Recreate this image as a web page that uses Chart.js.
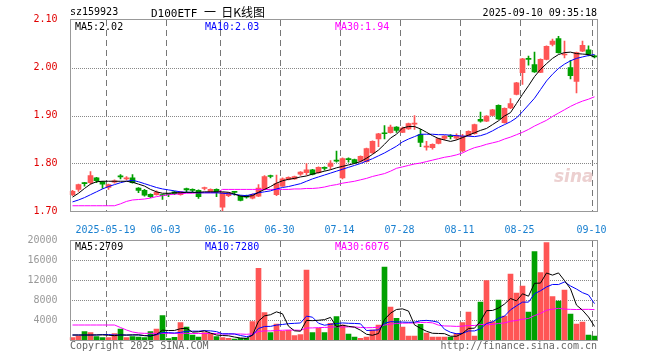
<!DOCTYPE html>
<html>
<head>
<meta charset="utf-8">
<title>D100ETF 日K线图</title>
<script src="https://cdn.jsdelivr.net/npm/chart.js@4.4.1/dist/chart.umd.min.js"></script>
<style>
  body { margin: 0; background: #fff; }
  #box { position: relative; width: 660px; height: 360px; overflow: hidden;
         font-family: "DejaVu Sans Mono", "Liberation Mono", monospace; font-size: 10px; }
  .txt { position: absolute; line-height: 10px; white-space: pre; }
  canvas { position: absolute; left: 0; }
</style>
</head>
<body>
<div id="box">
  <canvas id="kline" width="660" height="236" style="top:0"></canvas>
  <canvas id="vol" width="660" height="132" style="top:228px"></canvas>

  <div class="txt" style="left:70px;top:7px;color:#000">sz159923</div>
  <div class="txt" style="left:151px;top:6px;line-height:12px;font-size:11px;color:#000">D100ETF <span style='font-family:"Noto Sans CJK SC";font-size:12px'>一  日K线图</span></div>
  <div class="txt" style="right:63px;top:8px;color:#000">2025-09-10 09:35:18</div>

  <div class="txt" id="lgMa5" style="left:75px;top:21.5px;color:#000"></div>
  <div class="txt" id="lgMa10" style="left:205px;top:21.5px;color:#0000ff"></div>
  <div class="txt" id="lgMa30" style="left:335px;top:21.5px;color:#ff00ff"></div>

  <div class="txt" id="lgVol5" style="left:75px;top:242px;color:#000"></div>
  <div class="txt" id="lgVol10" style="left:205px;top:242px;color:#0000ff"></div>
  <div class="txt" id="lgVol30" style="left:335px;top:242px;color:#ff00ff"></div>

  <div class="txt" style="left:554px;top:166px;line-height:18px;font:italic bold 17px 'DejaVu Sans';color:#ecd0d0">sina</div>

  <div class="txt" style="left:70px;top:340.5px;color:#666">Copyright 2025 SINA.COM</div>
  <div class="txt" style="right:63px;top:340.5px;color:#666">http://finance.sina.com.cn</div>
</div>

<script>
// trading days shown (2025)
const days = [
  '05-09','05-12','05-13','05-14','05-15','05-16',
  '05-19','05-20','05-21','05-22','05-23',
  '05-26','05-27','05-28','05-29','05-30',
  '06-03','06-04','06-05','06-06',
  '06-09','06-10','06-11','06-12','06-13',
  '06-16','06-17','06-18','06-19','06-20',
  '06-23','06-24','06-25','06-26','06-27',
  '06-30','07-01','07-02','07-03','07-04',
  '07-07','07-08','07-09','07-10','07-11',
  '07-14','07-15','07-16','07-17','07-18',
  '07-21','07-22','07-23','07-24','07-25',
  '07-28','07-29','07-30','07-31','08-01',
  '08-04','08-05','08-06','08-07','08-08',
  '08-11','08-12','08-13','08-14','08-15',
  '08-18','08-19','08-20','08-21','08-22',
  '08-25','08-26','08-27','08-28','08-29',
  '09-01','09-02','09-03','09-04','09-05',
  '09-08','09-09','09-10'
];

const tickDays = ['05-19','06-03','06-16','06-30','07-14','07-28','08-11','08-25','09-10'];
const tickText = ['2025-05-19','06-03','06-16','06-30','07-14','07-28','08-11','08-25','09-10'];

const open = [
  1.735,1.746,1.760,1.760,1.770,1.762,1.750,1.761,1.773,1.768,
  1.770,1.749,1.744,1.736,1.735,1.735,1.736,1.741,1.735,1.748,
  1.745,1.744,1.748,1.742,1.746,1.709,1.733,1.741,1.732,1.733,
  1.728,1.732,1.746,1.774,1.735,1.753,1.767,1.768,1.778,1.781,
  1.787,1.781,1.791,1.794,1.806,1.770,1.809,1.808,1.805,1.804,
  1.822,1.851,1.863,1.864,1.876,1.865,1.872,1.882,1.860,1.834,
  1.833,1.842,1.852,1.857,1.853,1.826,1.858,1.862,1.892,1.888,
  1.900,1.921,1.885,1.916,1.944,1.989,2.018,2.006,1.990,2.017,
  2.048,2.060,2.026,2.000,1.971,2.034,2.037,2.024
];
const high = [
  1.744,1.757,1.761,1.783,1.771,1.763,1.757,1.766,1.777,1.773,
  1.777,1.750,1.746,1.737,1.743,1.736,1.737,1.742,1.742,1.749,
  1.747,1.745,1.751,1.747,1.747,1.740,1.740,1.742,1.733,1.734,
  1.737,1.756,1.775,1.776,1.776,1.770,1.772,1.774,1.783,1.800,
  1.788,1.793,1.793,1.806,1.826,1.812,1.812,1.809,1.816,1.832,
  1.847,1.863,1.879,1.880,1.877,1.876,1.884,1.900,1.871,1.846,
  1.841,1.853,1.858,1.860,1.862,1.861,1.868,1.882,1.907,1.900,
  1.913,1.922,1.916,1.935,1.969,2.019,2.024,2.032,2.018,2.045,
  2.059,2.065,2.055,2.015,2.032,2.055,2.045,2.026
];
const low = [
  1.733,1.742,1.753,1.757,1.760,1.748,1.746,1.759,1.768,1.766,
  1.759,1.739,1.732,1.729,1.734,1.725,1.731,1.735,1.734,1.740,
  1.740,1.727,1.745,1.741,1.731,1.701,1.731,1.734,1.722,1.728,
  1.726,1.731,1.745,1.770,1.733,1.752,1.766,1.767,1.775,1.776,
  1.776,1.780,1.786,1.788,1.803,1.768,1.803,1.800,1.803,1.803,
  1.821,1.835,1.851,1.863,1.865,1.864,1.871,1.871,1.835,1.828,
  1.830,1.841,1.849,1.851,1.850,1.824,1.857,1.861,1.886,1.887,
  1.899,1.892,1.884,1.914,1.943,1.965,2.005,1.990,1.989,2.016,
  2.045,2.030,2.020,1.976,1.947,2.033,2.024,2.020
];
const close = [
  1.742,1.756,1.758,1.775,1.764,1.757,1.756,1.764,1.772,1.770,
  1.760,1.744,1.734,1.731,1.740,1.733,1.735,1.737,1.741,1.745,
  1.744,1.731,1.749,1.746,1.741,1.739,1.739,1.740,1.723,1.730,
  1.735,1.749,1.773,1.773,1.758,1.768,1.771,1.773,1.782,1.787,
  1.777,1.792,1.790,1.801,1.805,1.810,1.808,1.801,1.815,1.831,
  1.846,1.862,1.862,1.876,1.869,1.874,1.883,1.883,1.844,1.835,
  1.840,1.852,1.857,1.856,1.858,1.857,1.867,1.881,1.888,1.899,
  1.912,1.893,1.915,1.925,1.968,2.018,2.017,1.991,2.017,2.044,
  2.055,2.031,2.027,1.983,2.031,2.046,2.027,2.022
];

const ma5 = [
  1.730,1.738,1.748,1.757,1.762,1.763,1.763,1.763,1.763,1.763,
  1.761,1.757,1.753,1.746,1.741,1.738,1.738,1.739,1.739,1.740,
  1.740,1.740,1.741,1.741,1.741,1.741,1.740,1.736,1.732,1.731,
  1.733,1.740,1.746,1.752,1.759,1.764,1.767,1.769,1.772,1.774,
  1.778,1.781,1.784,1.787,1.791,1.794,1.797,1.800,1.804,1.811,
  1.819,1.828,1.840,1.853,1.861,1.874,1.877,1.877,1.872,1.865,
  1.858,1.852,1.849,1.846,1.849,1.854,1.859,1.864,1.869,1.873,
  1.881,1.889,1.899,1.906,1.925,1.944,1.962,1.981,1.996,2.008,
  2.019,2.027,2.031,2.032,2.029,2.028,2.027,2.022
];
const ma10 = [
  1.720,1.724,1.729,1.735,1.741,1.747,1.752,1.756,1.760,1.763,
  1.765,1.762,1.758,1.754,1.750,1.747,1.745,1.743,1.741,1.740,
  1.740,1.739,1.739,1.739,1.739,1.738,1.737,1.736,1.734,1.733,
  1.736,1.739,1.741,1.743,1.747,1.750,1.752,1.755,1.758,1.763,
  1.768,1.772,1.776,1.780,1.784,1.788,1.792,1.796,1.800,1.805,
  1.810,1.816,1.822,1.829,1.836,1.845,1.851,1.856,1.861,1.861,
  1.861,1.860,1.860,1.859,1.858,1.857,1.857,1.856,1.858,1.862,
  1.868,1.875,1.881,1.887,1.895,1.908,1.922,1.936,1.954,1.972,
  1.986,1.998,2.007,2.014,2.019,2.022,2.025,2.027
];
const ma30 = [
  1.712,1.712,1.712,1.712,1.712,1.712,1.712,1.712,1.716,1.721,
  1.724,1.725,1.726,1.728,1.731,1.733,1.735,1.736,1.737,1.738,
  1.738,1.739,1.739,1.739,1.739,1.746,1.746,1.746,1.746,1.746,
  1.746,1.746,1.746,1.746,1.746,1.746,1.746,1.747,1.747,1.748,
  1.748,1.749,1.751,1.754,1.756,1.759,1.761,1.763,1.766,1.769,
  1.773,1.776,1.779,1.784,1.790,1.793,1.796,1.799,1.801,1.804,
  1.807,1.810,1.813,1.815,1.818,1.822,1.828,1.833,1.836,1.840,
  1.843,1.846,1.851,1.855,1.860,1.865,1.871,1.878,1.884,1.890,
  1.898,1.905,1.912,1.919,1.925,1.930,1.934,1.939
];

const volume = [
  470,800,1670,1470,670,470,470,1270,2200,470,
  670,600,470,1670,2200,4870,270,530,3470,2600,
  1000,600,1470,1270,670,470,330,200,330,330,
  3670,14330,5470,1470,3200,1730,1930,870,1070,14000,
  1470,2330,1470,3330,4670,3000,1200,600,330,600,
  2000,3000,14600,6600,4330,2600,800,800,3130,1400,
  600,600,600,600,1330,3470,5600,800,7600,11870,
  3670,8000,4800,13200,9400,10800,5600,17670,13470,19470,
  8670,7800,10000,5200,3200,3600,1000,800
];
const volMa5 = [
  1000,1000,1000,1000,1016,1016,950,870,1016,976,
  1016,1042,882,776,1122,1962,1896,1908,2268,2348,
  1574,1640,1828,1388,1002,896,842,588,400,332,
  972,3772,4826,5054,5628,5240,2760,1840,1760,3920,
  3868,3948,4068,4520,2654,2960,2734,2560,1960,1146,
  946,1306,4106,5360,6106,6226,5786,3026,2332,1746,
  1346,1306,1266,760,746,1320,2320,2360,3760,5868,
  5908,6388,7188,8308,7814,9240,8760,11334,11388,13402,
  12976,13416,11882,10228,6974,5960,4600,2709
];
const volMa10 = [
  1000,1000,1000,1000,1000,1100,1100,1000,1000,996,
  1016,996,876,896,1049,1489,1469,1395,1522,1735,
  1768,1768,1868,1828,1675,1235,1241,1208,894,667,
  934,2307,2707,2727,2980,3106,3266,3333,3407,4774,
  4554,3354,2954,3140,3287,3414,3341,3314,3240,1900,
  1953,2020,3333,3660,3626,3586,3546,3566,3846,3926,
  3786,3546,2146,1546,1246,1333,1813,1813,2260,3307,
  3614,4354,4774,6034,6841,7574,7574,9261,9848,10608,
  11108,11088,11608,10808,10188,9468,9008,7280
];
const volMa30 = [
  3000,3000,3000,3000,3000,3000,3000,3000,2500,2000,
  1600,1400,1330,1330,1330,1330,1330,1330,1330,1330,
  1300,1300,1300,1300,1300,1200,1200,1200,1200,1133,
  1239,1690,1817,1817,1901,1943,1992,1979,1941,2392,
  2419,2476,2510,2565,2647,2585,2616,2618,2514,2447,
  2480,2560,2998,3176,3298,3369,3384,3404,3498,3533,
  3431,2973,2811,2782,2720,2778,2900,2898,3115,3044,
  3118,3307,3418,3747,3904,4164,4311,4880,5318,5947,
  6169,6329,6176,6129,6092,6125,6132,6076
];

const RED = '#ff5555';
const GREEN = '#00a000';
const FONT = { family: 'DejaVu Sans Mono', size: 10 };

const last = a => a[a.length - 1];
document.getElementById('lgMa5').textContent = 'MA5:' + last(ma5).toFixed(2);
document.getElementById('lgMa10').textContent = 'MA10:' + last(ma10).toFixed(2);
document.getElementById('lgMa30').textContent = 'MA30:' + last(ma30).toFixed(2);
document.getElementById('lgVol5').textContent = 'MA5:' + last(volMa5);
document.getElementById('lgVol10').textContent = 'MA10:' + last(volMa10);
document.getElementById('lgVol30').textContent = 'MA30:' + last(volMa30);

const isUp = i => close[i] >= open[i];
const barColor = ctx => isUp(ctx.dataIndex) ? RED : GREEN;

// dotted value lines and dashed date lines, placed with the chart's scales,
// kept under the marks; then the grey box round the plot area
const frame = {
  id: 'frame',
  afterDraw(chart) {
    const { ctx, chartArea: a, scales } = chart;
    const x = scales.x, y = scales.y;
    const slot = (a.right - a.left) / days.length;
    const left = Math.ceil(a.left), right = Math.floor(a.right);
    const top = Math.floor(a.top), bottom = Math.floor(a.bottom);
    ctx.save();
    ctx.globalCompositeOperation = 'destination-over';
    ctx.fillStyle = '#888888';
    y.getTicks().forEach(t => {
      const py = Math.round(y.getPixelForValue(t.value));
      if (py <= top + 1 || py >= bottom - 1) return;
      for (let px = left + 2; px < right; px += 2) ctx.fillRect(px, py, 1, 1);
    });
    // date lines: 6px dash, 4px gap
    ctx.fillStyle = '#777777';
    tickDays.forEach(d => {
      const i = days.indexOf(d);
      let cx = x.getPixelForValue(i);
      if (!isFinite(cx)) cx = a.left + slot * (i + 0.5);
      const px = Math.round(cx - slot / 2);
      for (let py = top + 1; py < bottom; py += 10) {
        ctx.fillRect(px, py, 1, Math.min(6, bottom - py));
      }
    });
    ctx.globalCompositeOperation = 'source-over';
    ctx.strokeStyle = '#999';
    ctx.lineWidth = 1;
    ctx.strokeRect(left + 0.5, top + 0.5, right - left, bottom - top);
    ctx.restore();
  }
};

function xAxis(showLabels) {
  return {
    offset: true,
    grid: { display: false },
    border: { display: false },
    ticks: {
      display: showLabels,
      autoSkip: false,
      maxRotation: 0,
      minRotation: 0,
      labelOffset: -3,
      padding: 5,
      color: '#1a80d0',
      font: FONT,
      callback: (v, i) => {
        const k = tickDays.indexOf(days[i]);
        return k < 0 ? '' : tickText[k];
      }
    },
    afterFit: s => { s.height = showLabels ? 24.5 : 0; }
  };
}

function maLine(data, color) {
  return { type: 'line', data, borderColor: color, borderWidth: 1, pointRadius: 0, tension: 0, order: 0 };
}

const common = {
  responsive: false,
  animation: false,
  events: [],
  plugins: { legend: { display: false }, tooltip: { enabled: false } }
};

new Chart(document.getElementById('kline'), {
  type: 'bar',
  data: {
    labels: days,
    datasets: [
      maLine(ma5, '#000000'),
      maLine(ma10, '#0000ff'),
      maLine(ma30, '#ff00ff'),
      {
        data: days.map((d, i) => [open[i], close[i]]),
        backgroundColor: barColor,
        barThickness: 5,
        minBarLength: 1,
        grouped: false,
        order: 1
      },
      {
        data: days.map((d, i) => [low[i], high[i]]),
        backgroundColor: barColor,
        barThickness: 1,
        grouped: false,
        order: 2
      }
    ]
  },
  options: {
    ...common,
    layout: { padding: { left: 0, top: 19.5, right: 62.5, bottom: 0 } },
    scales: {
      x: xAxis(true),
      y: {
        min: 1.7,
        max: 2.1,
        grid: { display: false },
        border: { display: false },
        ticks: { stepSize: 0.1, padding: 4, color: '#e00000', font: FONT, callback: v => v.toFixed(2) },
        afterFit: s => { s.width = 69.5; }
      }
    }
  },
  plugins: [frame]
});

new Chart(document.getElementById('vol'), {
  type: 'bar',
  data: {
    labels: days,
    datasets: [
      maLine(volMa5, '#000000'),
      maLine(volMa10, '#0000ff'),
      maLine(volMa30, '#ff00ff'),
      {
        data: volume,
        backgroundColor: barColor,
        barThickness: 5,
        grouped: false,
        order: 1
      }
    ]
  },
  options: {
    ...common,
    layout: { padding: { left: 0, top: 12, right: 62.5, bottom: 20 } },
    scales: {
      x: xAxis(false),
      y: {
        min: 0,
        max: 20000,
        grid: { display: false },
        border: { display: false },
        ticks: { stepSize: 4000, padding: 4, color: '#999', font: FONT, callback: v => v === 0 ? '' : v },
        afterFit: s => { s.width = 69.5; }
      }
    }
  },
  plugins: [frame]
});
</script>
</body>
</html>
